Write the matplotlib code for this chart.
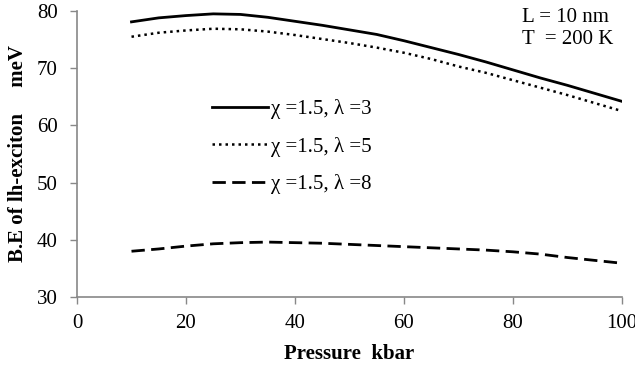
import matplotlib
matplotlib.use("Agg")
import matplotlib.pyplot as plt

pressure = [10, 15, 20, 25, 30, 35, 40, 45, 50, 55, 60, 65, 70, 75, 80, 85, 90, 95, 100]
be_lambda3 = [78.1, 78.8, 79.2, 79.5, 79.4, 78.9, 78.2, 77.5, 76.7, 75.9, 74.8, 73.6, 72.4, 71.1, 69.7, 68.3, 67.0, 65.6, 64.2]
be_lambda5 = [75.5, 76.2, 76.6, 76.9, 76.8, 76.4, 75.8, 75.1, 74.4, 73.6, 72.7, 71.6, 70.3, 69.2, 67.9, 66.6, 65.3, 63.9, 62.5]
be_lambda8 = [38.0, 38.4, 38.9, 39.3, 39.5, 39.6, 39.5, 39.4, 39.2, 39.0, 38.8, 38.6, 38.4, 38.2, 37.9, 37.5, 36.9, 36.4, 35.9]
labels = ["χ =1.5, λ =3", "χ =1.5, λ =5", "χ =1.5, λ =8"]
xticks = [0, 20, 40, 60, 80, 100]
yticks = [30, 40, 50, 60, 70, 80]

plt.rcParams['font.family'] = ['Liberation Serif', 'DejaVu Serif']

fig = plt.figure(figsize=(6.35, 3.66), dpi=100)
ax = fig.add_axes([77/635, 1-297/366, (622-77)/635, (297-11)/366])

ax.plot(pressure, be_lambda3, color='black', lw=2.0, ls='-', label=labels[0])
ax.plot(pressure, be_lambda5, color='black', lw=1.8, ls=(0, (1, 1.6)), label=labels[1])
ax.plot(pressure, be_lambda8, color='black', lw=2.0, ls=(0, (4.8, 2.3)), label=labels[2])

ax.set_xlim(0, 100)
ax.set_ylim(30, 80)
ax.set_xticks(xticks)
ax.set_yticks(yticks)
ax.tick_params(axis='both', direction='out', length=5, width=1, color='#888888', labelsize=15)
ax.tick_params(axis='y', pad=9)
ax.tick_params(axis='x', pad=7)
for s in ['top', 'right']:
    ax.spines[s].set_visible(False)
for s in ['left', 'bottom']:
    ax.spines[s].set_color('#888888')
    ax.spines[s].set_linewidth(1.2)

ax.set_xlabel("Pressure  kbar", fontsize=15, fontweight='bold', labelpad=8)
ax.set_ylabel("B.E of lh-exciton     meV", fontsize=15, fontweight='bold', labelpad=6)

leg = ax.legend(loc='upper left', bbox_to_anchor=((212-77)/545, 1-(99-11)/286), frameon=False,
                fontsize=15, handlelength=2.7, handletextpad=0.15, labelspacing=0.85,
                borderaxespad=0, borderpad=0)

fig.text(522/635, 1-17/366, "L = 10 nm", fontsize=15, ha='left', va='center')
fig.text(522/635, 1-40/366, "T  = 200 K", fontsize=15, ha='left', va='center')

fig.savefig("out.png", dpi=100)
